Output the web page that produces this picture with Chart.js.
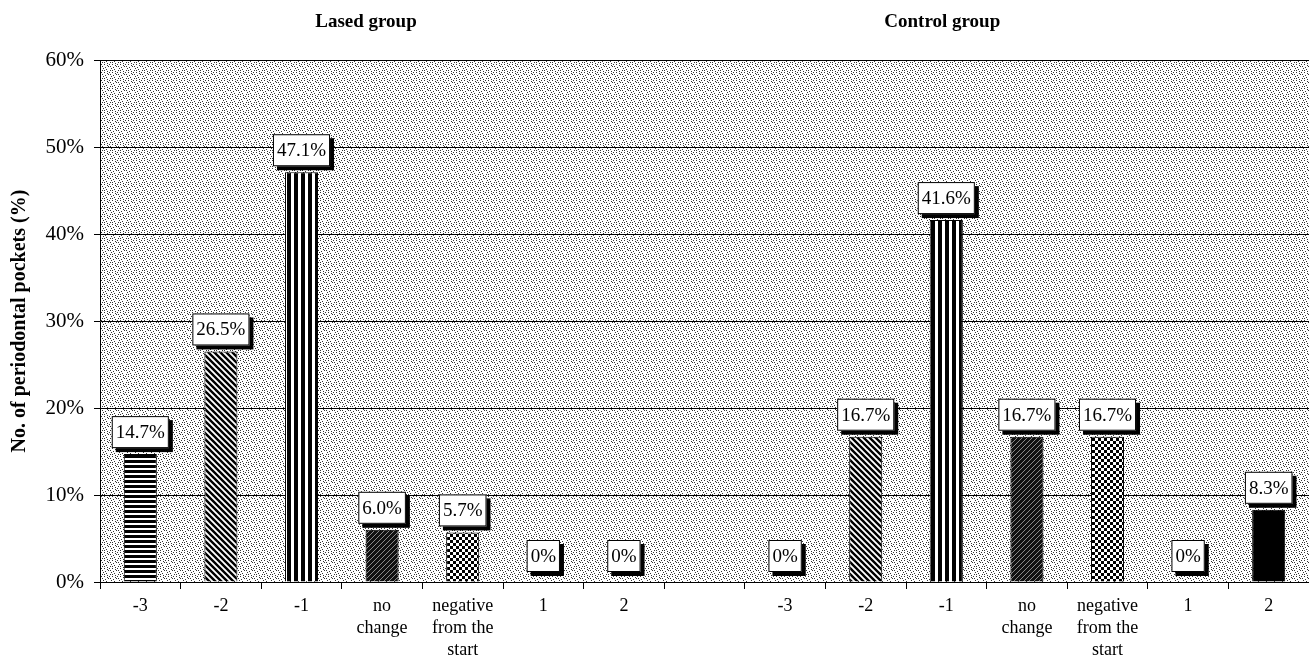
<!DOCTYPE html>
<html>
<head>
<meta charset="utf-8">
<script src="https://cdn.jsdelivr.net/npm/chart.js@4/dist/chart.umd.min.js"></script>
<style>
  html, body { margin: 0; padding: 0; background: #fff; }
  #wrap { width: 1309px; height: 666px; }
</style>
</head>
<body>
<div id="wrap"><canvas id="chart" width="1309" height="666"></canvas></div>
<script>
// ============ Data ============
const categories = [["-3"], ["-2"], ["-1"], ["no", "change"], ["negative", "from the", "start"], ["1"], ["2"]];
const lasedValues = [14.7, 26.5, 47.1, 6.0, 5.7, 0, 0];
const controlValues = [0, 16.7, 41.6, 16.7, 16.7, 0, 8.3];
const valueLabels = ["14.7%", "26.5%", "47.1%", "6.0%", "5.7%", "0%", "0%", "", "0%", "16.7%", "41.6%", "16.7%", "16.7%", "0%", "8.3%"];
const groupTitles = ["Lased group", "Control group"];
const yTicks = [0, 10, 20, 30, 40, 50, 60];

// ============ Patterns ============
function tile(w, h, draw) {
  const c = document.createElement("canvas");
  c.width = w; c.height = h;
  const g = c.getContext("2d");
  draw(g);
  return document.createElement("canvas").getContext("2d").createPattern(c, "repeat");
}

const patterns = [
  // -3 horizontal stripes
  tile(1, 5, g => { g.fillStyle = "#fff"; g.fillRect(0, 0, 1, 5); g.fillStyle = "#000"; g.fillRect(0, 0, 1, 3); }),
  // -2 diagonal \\\
  tile(6, 6, g => {
    g.fillStyle = "#fff"; g.fillRect(0, 0, 6, 6);
    g.strokeStyle = "#000"; g.lineWidth = 2.4;
    g.beginPath(); g.moveTo(-6, -6); g.lineTo(12, 12); g.moveTo(-6, 0); g.lineTo(6, 12); g.moveTo(0, -6); g.lineTo(12, 6); g.stroke();
  }),
  // -1 vertical stripes
  tile(7, 1, g => { g.fillStyle = "#fff"; g.fillRect(0, 0, 7, 1); g.fillStyle = "#000"; g.fillRect(0, 0, 4, 1); }),
  // no change dark ///
  tile(5, 5, g => {
    g.fillStyle = "#111"; g.fillRect(0, 0, 5, 5);
    g.strokeStyle = "#999"; g.lineWidth = 0.9;
    g.beginPath(); g.moveTo(-5, 10); g.lineTo(10, -5); g.moveTo(-5, 5); g.lineTo(5, -5); g.moveTo(0, 10); g.lineTo(10, 0); g.stroke();
  }),
  // negative from the start checker
  tile(6, 6, g => {
    g.fillStyle = "#fff"; g.fillRect(0, 0, 6, 6);
    g.fillStyle = "#000"; g.fillRect(0, 0, 3, 3); g.fillRect(3, 3, 3, 3);
  }),
  // 1
  "#000",
  // 2 solid
  "#000"
];

const stipple = tile(8, 8, g => {
  g.fillStyle = "#fff"; g.fillRect(0, 0, 8, 8);
  g.fillStyle = "#333";
  [[0, 0], [4, 2], [2, 5], [6, 6], [1, 3], [5, 0], [3, 7], [7, 4], [6, 2], [0, 6], [3, 1]].forEach(p => g.fillRect(p[0], p[1], 1, 1));
});

// ============ Build chart data ============
const labels = [...categories, [""], ...categories];
const values = [...lasedValues, null, ...controlValues];
const colors = [...patterns, "#fff", ...patterns];

const serif = "'Liberation Serif', 'Times New Roman', serif";

const bgPlugin = {
  id: "bg",
  beforeDraw(chart) {
    const { ctx, chartArea: a } = chart;
    ctx.save();
    ctx.fillStyle = stipple;
    ctx.fillRect(a.left, a.top, a.right - a.left, a.bottom - a.top);
    ctx.restore();
  }
};

const labelPlugin = {
  id: "boxLabels",
  afterDatasetsDraw(chart) {
    const { ctx, chartArea: a } = chart;
    const meta = chart.getDatasetMeta(0);
    const y = chart.scales.y;
    ctx.save();
    ctx.font = "19px " + serif;
    ctx.textAlign = "center";
    ctx.textBaseline = "middle";
    meta.data.forEach((bar, i) => {
      const txt = valueLabels[i];
      if (!txt) return;
      const w = ctx.measureText(txt).width + 8;
      const h = 32;
      const cx = bar.x;
      const bottom = (values[i] === 0 ? y.getPixelForValue(0) - 10 : bar.y - 6);
      const top = bottom - h;
      ctx.fillStyle = "#000";
      ctx.fillRect(cx - w / 2 + 4, top + 4, w, h);
      ctx.fillStyle = "#fff";
      ctx.fillRect(cx - w / 2, top, w, h);
      ctx.strokeStyle = "#000";
      ctx.lineWidth = 1;
      ctx.strokeRect(cx - w / 2 + 0.5, top + 0.5, w - 1, h - 1);
      ctx.fillStyle = "#000";
      ctx.fillText(txt, cx, top + h / 2 + 1);
    });
    // group titles
    ctx.font = "bold 19px " + serif;
    const step = (a.right - a.left) / labels.length;
    [2.8, 9.95].forEach((idx, k) => {
      ctx.fillText(groupTitles[k], a.left + (idx + 0.5) * step, 22);
    });
    ctx.restore();
  }
};

new Chart(document.getElementById("chart").getContext("2d"), {
  type: "bar",
  data: {
    labels: labels,
    datasets: [{
      data: values,
      backgroundColor: colors,
      borderColor: "#000",
      borderWidth: 1,
      categoryPercentage: 1,
      barPercentage: 0.41
    }]
  },
  options: {
    responsive: false,
    animation: false,
    layout: { padding: { top: 60, right: 0, left: 0, bottom: 0 } },
    plugins: { legend: { display: false }, tooltip: { enabled: false } },
    scales: {
      x: {
        grid: { display: true, drawOnChartArea: false, offset: true, color: "#000", tickLength: 7, tickColor: "#000" },
        border: { color: "#000", width: 1 },
        ticks: { color: "#000", font: { family: serif, size: 18, lineHeight: 1.22 }, padding: 6, maxRotation: 0, autoSkip: false },
        afterFit(s) { s.height = 84; }
      },
      y: {
        min: 0, max: 60,
        afterBuildTicks(s) { s.ticks = yTicks.map(v => ({ value: v })); },
        grid: { color: "#000", lineWidth: 1, tickLength: 6, tickColor: "#000" },
        border: { color: "#000", width: 1 },
        ticks: { color: "#000", font: { family: serif, size: 21 }, padding: 10, callback: v => v + "%" },
        title: { display: true, text: "No. of periodontal pockets (%)", color: "#000", font: { family: serif, size: 20, weight: "bold" }, padding: { top: 8, bottom: 0 } },
        afterFit(s) { s.width = 100; }
      }
    }
  },
  plugins: [bgPlugin, labelPlugin]
});
</script>
</body>
</html>
